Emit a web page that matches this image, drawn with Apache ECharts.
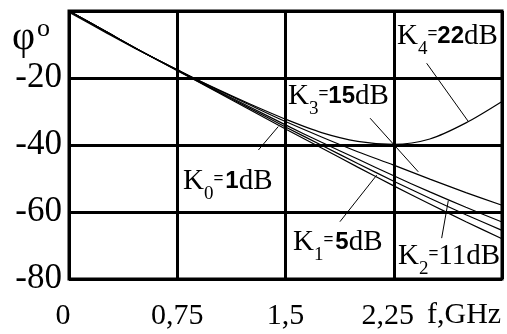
<!DOCTYPE html>
<html>
<head>
<meta charset="utf-8">
<script src="https://cdn.jsdelivr.net/npm/echarts@6/dist/echarts.min.js"></script>
<style>
  html, body { margin: 0; padding: 0; background: #fff; }
  #chart { width: 507px; height: 334px; }
</style>
</head>
<body>
<div id="chart"></div>
<script>
// Phase response φ (degrees) versus frequency f (GHz) for five gain settings
const freq = [0, 0.25, 0.5, 0.75, 1, 1.25, 1.5, 1.75, 2, 2.25, 2.5, 2.75, 3];
const phiK0 = [0, -6, -12, -17.8, -23.6, -29.4, -35.2, -40.9, -46.6, -52.2, -57.6, -62.9, -68];
const phiK1 = [0, -6, -12, -17.7, -23.4, -29.0, -34.6, -40.1, -45.5, -50.8, -55.9, -60.8, -65.5];
const phiK2 = [0, -6, -12, -17.6, -23.2, -28.6, -34.0, -39.2, -44.2, -49.2, -54.0, -58.6, -63];
const phiK3 = [0, -6, -12, -17.5, -22.9, -28.0, -33.0, -37.6, -42.0, -46.0, -50.2, -54.2, -58];
const phiK4 = [-0.4, -6.3, -12.1, -17.6, -22.8, -27.7, -32.3, -36.3, -38.9, -39.8, -38.2, -33.4, -27];

const xTickLabels = ['0', '0,75', '1,5', '2,25', ''];
const yTickLabels = ['-80', '-60', '-40', '-20', ''];

// Leader lines from each caption to its curve, in (f, φ) units
const leaderK0 = [[1.312, -41.5], [1.450, -34.5]];
const leaderK1 = [[1.877, -62.9], [2.132, -49.0]];
const leaderK2 = [[2.582, -67.8], [2.628, -56.6]];
const leaderK3 = [[2.086, -32.0], [2.420, -48.0]];
const leaderK4 = [[2.478, -15.6], [2.767, -33.0]];

const SERIF = '"Liberation Serif", "Times New Roman", serif';
const SANS = '"Liberation Sans", Arial, sans-serif';

const chart = echarts.init(document.getElementById('chart'), null, { renderer: 'canvas' });

function curve(name, values) {
  return {
    name: name,
    type: 'line',
    data: freq.map((f, i) => [f, values[i]]),
    smooth: 0.3,
    symbol: 'none',
    lineStyle: { color: '#000', width: 1.2 },
    silent: true,
    z: 3
  };
}

// Width measurement for laying out the caption pieces side by side
const measureCtx = document.createElement('canvas').getContext('2d');
function textWidth(text, size, family, weight) {
  measureCtx.font = (weight || 'normal') + ' ' + size + 'px ' + family;
  return measureCtx.measureText(text).width;
}

// Caption "K<sub>idx</sub>=<value>dB"; (x, y) is the left edge and vertical centre of the K
function caption(x, y, idx, value, boldValue) {
  const pad = value.length === 1 ? 2 : 0;
  const pieces = [
    { t: 'K', size: 29, fam: SERIF, w: 'normal', dy: 0, gapAfter: 0 },
    { t: idx, size: 19, fam: SERIF, w: 'normal', dy: 13, gapAfter: 0 },
    { t: '=', size: 17, fam: SANS, w: 'normal', dy: -3, gapAfter: pad },
    boldValue
      ? { t: value, size: 24, fam: SANS, w: 'bold', dy: 0.5, gapAfter: 0 }
      : { t: value, size: 29, fam: SERIF, w: 'normal', dy: 0, gapAfter: 0 },
    { t: 'dB', size: 29, fam: SERIF, w: 'normal', dy: 0, gapAfter: 0 }
  ];
  let cx = 0;
  const children = pieces.map(p => {
    const el = {
      type: 'text',
      x: cx,
      y: p.dy,
      silent: true,
      style: {
        text: p.t, fontSize: p.size, fontFamily: p.fam, fontWeight: p.w,
        fill: '#000', align: 'left', verticalAlign: 'middle'
      }
    };
    cx += textWidth(p.t, p.size, p.fam, p.w) + p.gapAfter;
    return el;
  });
  return { type: 'group', x: x, y: y, silent: true, z: 10, children: children };
}

const option = {
  backgroundColor: '#fff',
  animation: false,
  grid: {
    left: 69, right: 5, top: 11, bottom: 55,
    show: true, borderColor: '#000', borderWidth: 3, backgroundColor: 'transparent'
  },
  xAxis: {
    type: 'value',
    min: 0, max: 3, interval: 0.75,
    axisLine: { show: false },
    axisTick: { show: false },
    splitLine: { show: true, lineStyle: { color: '#000', width: 3 } },
    axisLabel: {
      color: '#000', fontFamily: SERIF, fontSize: 30, margin: 22,
      formatter: v => {
        const i = Math.round(v / 0.75);
        const s = xTickLabels[i] || '';
        return (i === 0 || i === 3) ? '{l|' + s + '}' : s;
      },
      rich: {
        l: { fontFamily: SERIF, fontSize: 30, color: '#000', padding: [0, 12, 0, 0] }
      }
    }
  },
  yAxis: {
    type: 'value',
    min: -80, max: 0, interval: 20,
    axisLine: { show: false },
    axisTick: { show: false },
    splitLine: { show: true, lineStyle: { color: '#000', width: 3 } },
    axisLabel: {
      color: '#000', fontFamily: SERIF, fontSize: 35, margin: 7, padding: [4, 0, 0, 0],
      formatter: v => yTickLabels[Math.round((v + 80) / 20)] || ''
    }
  },
  series: [
    curve('K0', phiK0),
    curve('K1', phiK1),
    curve('K2', phiK2),
    curve('K3', phiK3),
    curve('K4', phiK4),
    {
      name: 'leaders',
      type: 'line',
      data: [],
      silent: true,
      markLine: {
        silent: true,
        symbol: ['none', 'none'],
        label: { show: false },
        lineStyle: { color: '#000', width: 1, type: 'solid' },
        data: [leaderK0, leaderK1, leaderK2, leaderK3, leaderK4].map(p => [
          { coord: p[0] }, { coord: p[1] }
        ])
      },
      z: 4
    }
  ],
  graphic: [
    // axis titles
    { type: 'text', left: 12, top: 18, silent: true,
      style: { text: 'φ', fontFamily: SERIF, fontSize: 40, fill: '#000' } },
    { type: 'text', left: 37, top: 16, silent: true,
      style: { text: 'o', fontFamily: SERIF, fontSize: 26, fill: '#000' } },
    { type: 'text', left: 427, top: 300, silent: true,
      style: { text: 'f,GHz', fontFamily: SERIF, fontSize: 30, fill: '#000' } },
    // curve captions
    caption(397, 36, '4', '22', true),
    caption(288, 96, '3', '15', true),
    caption(183, 181, '0', '1', true),
    caption(293, 242, '1', '5', true),
    caption(398, 256, '2', '11', false)
  ]
};

chart.setOption(option);
</script>
</body>
</html>
